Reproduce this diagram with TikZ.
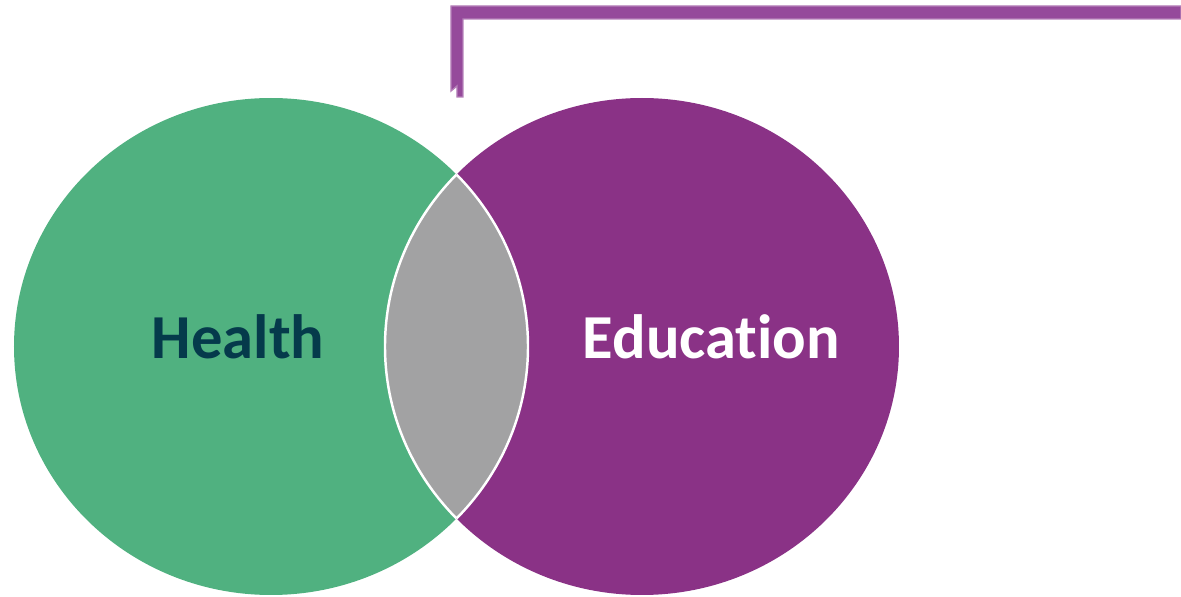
\documentclass[tikz,border=0pt]{standalone}
\usepackage{fontspec}
\setmainfont{Carlito}[Ligatures={NoCommon,NoRare,NoDiscretionary}]
\definecolor{healthgreen}{RGB}{80,177,128}
\definecolor{edupurple}{RGB}{138,50,134}
\definecolor{framepurple}{RGB}{149,74,155}
\definecolor{lensgrey}{RGB}{162,162,163}
\definecolor{darkteal}{RGB}{5,58,75}
\tikzset{
  {health fill/.style} ={fill=healthgreen},
  {edu fill/.style} ={fill=edupurple},
  {lens fill/.style} ={fill=lensgrey},
  {lens edge/.style} ={draw=white,line width=0.7pt},
  {frame bar/.style} ={fill=framepurple,draw=framepurple!70!white,line width=0.4pt},
  {label/.style} ={font=\bfseries\fontsize{17.8}{19}\selectfont,inner sep=0},
}
\begin{document}
\begin{tikzpicture}[x=0.1mm,y=-0.1mm]
\useasboundingbox (0,0) rectangle (1181,597);
\coordinate (hc) at (271,346.5);
\coordinate (ec) at (642,346.5);
% circles
\path[health fill] (hc) ellipse [x radius=257,y radius=248.5];
\path[edu fill] (ec) ellipse [x radius=257,y radius=248.5];
% overlap
\begin{scope}
  \clip (hc) ellipse [x radius=257,y radius=248.5];
  \path[lens fill] (ec) ellipse [x radius=257,y radius=248.5];
  \path[lens edge] (ec) ellipse [x radius=257,y radius=248.5];
\end{scope}
\begin{scope}
  \clip (ec) ellipse [x radius=257,y radius=248.5];
  \path[lens edge] (hc) ellipse [x radius=257,y radius=248.5];
\end{scope}
% bracket line on top
\path[frame bar] (451,6) -- (1181,6) -- (1181,19) -- (463,19) -- (463,97)
  -- (457,97) -- (457,86) -- (451,91) -- cycle;
\node[label,text=darkteal] (health) at (238,337) {Health};
\node[label,text=white] (education) at (711.5,337) {Education};
\end{tikzpicture}
\end{document}
